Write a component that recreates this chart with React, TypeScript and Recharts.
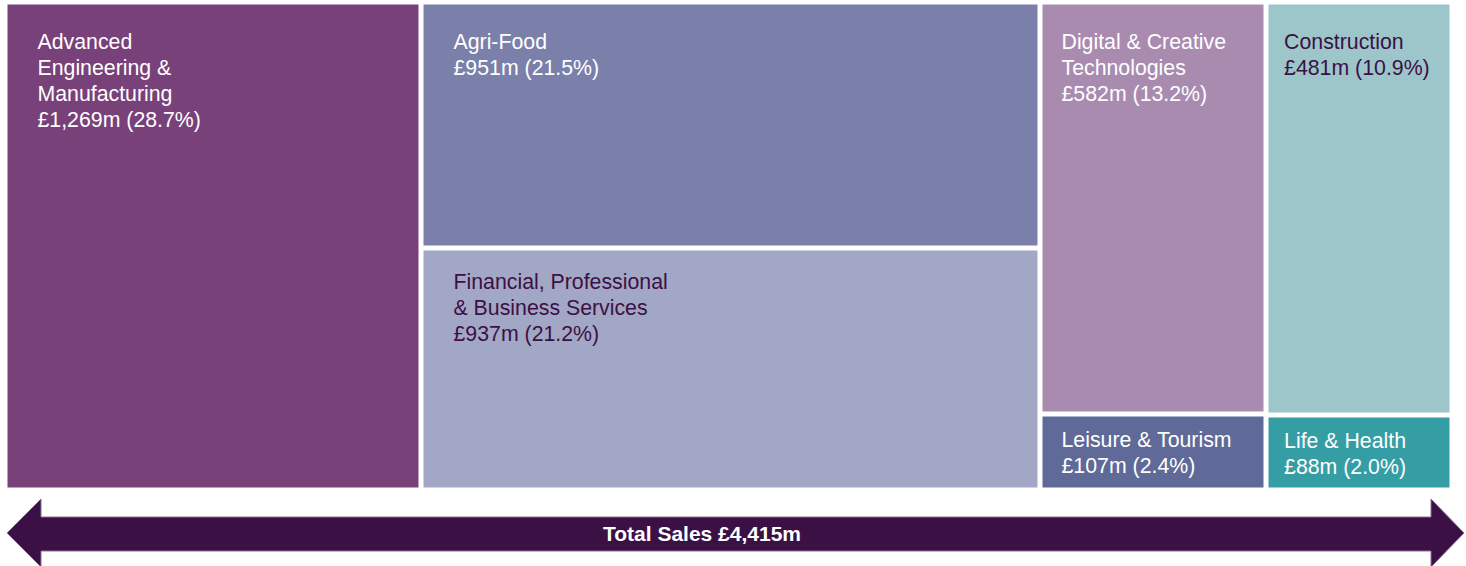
import { Treemap } from "recharts";

// sector names ("\n" = line break in the label)
const sectors = [
  "Advanced\nEngineering &\nManufacturing",
  "Agri-Food",
  "Financial, Professional\n& Business Services",
  "Digital & Creative\nTechnologies",
  "Leisure & Tourism",
  "Construction",
  "Life & Health",
];
// sales, £m
const sales = [1269, 951, 937, 582, 107, 481, 88];
// which sectors share a column
const columns = [[0], [1, 2], [3, 4], [5, 6]];
const totalLabel = "Total Sales £4,415m";

const fills = ["#79417a", "#7b80ab", "#a3a7c6", "#a98bb0", "#5f6a98", "#9dc6cb", "#359ea5"];
const inks = ["#ffffff", "#ffffff", "#3b1045", "#ffffff", "#ffffff", "#3b1045", "#ffffff"];
// first baseline offset from cell top, where it differs from the default
const labelTop: Record<number, number> = { 2: 38, 4: 30, 6: 30 };

const FONT = "'Liberation Sans', Arial, Helvetica, sans-serif";
const GAP = 5;

const total = sales.reduce((a, b) => a + b, 0);

const data = columns.map((col, c) => ({
  name: `col${c}`,
  children: col.map((i) => ({ name: sectors[i], size: sales[i], idx: i })),
}));

const fmt = (v: number) => `£${v.toLocaleString("en-GB")}m (${((v / total) * 100).toFixed(1)}%)`;

function SectorCell(props: any) {
  const { x, y, width, height, depth, idx } = props;
  if (depth !== 2 || idx === undefined) return <g />;
  const rx = x + GAP / 2;
  const ry = y + GAP / 2;
  const w = width - GAP;
  const h = height - GAP;
  const lines = [...sectors[idx].split("\n"), fmt(sales[idx])];
  const inset = Math.min(30, w * 0.086);
  const top = labelTop[idx] ?? 44.5;
  return (
    <g>
      <rect x={rx} y={ry} width={w} height={h} fill={fills[idx]} />
      <text x={rx + inset} y={ry + top} fill={inks[idx]} fontFamily={FONT} fontSize={21.3}>
        {lines.map((l, k) => (
          <tspan key={k} x={rx + inset} dy={k === 0 ? 0 : 26}>
            {l}
          </tspan>
        ))}
      </text>
    </g>
  );
}

export default function App() {
  return (
    <div style={{ position: "absolute", left: 0, top: 0, width: 1466, height: 566, background: "#fff" }}>
      <div style={{ position: "absolute", left: 5, top: 2 }}>
        <Treemap
          width={1447}
          height={488}
          data={data}
          dataKey="size"
          content={(p: any) => <SectorCell {...p} />}
          isAnimationActive={false}
        />
      </div>
      <svg
        width={1466}
        height={566}
        style={{ position: "absolute", left: 0, top: 0, pointerEvents: "none" }}
      >
        <path
          d="M7,533 L41,499 L41,517 L1431,517 L1431,499 L1464,533 L1431,567 L1431,551 L41,551 L41,567 Z"
          fill="#3b1045"
          stroke="#8d6e93"
          strokeWidth={1}
        />
        <text
          x={702}
          y={541}
          textAnchor="middle"
          fill="#ffffff"
          fontFamily={FONT}
          fontSize={21}
          fontWeight="bold"
        >
          {totalLabel}
        </text>
      </svg>
    </div>
  );
}
